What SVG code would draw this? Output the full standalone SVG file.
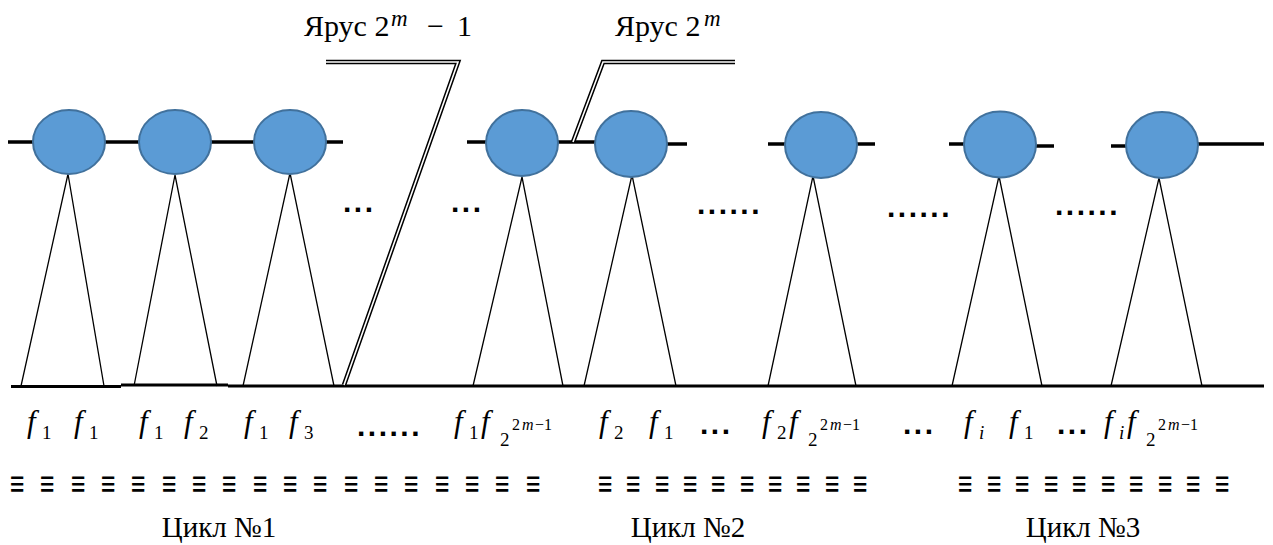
<svg xmlns="http://www.w3.org/2000/svg" width="1273" height="545" viewBox="0 0 1273 545">
<style>
.node{fill:#5b9bd5;stroke:#41719c;stroke-width:2}
.bus{stroke:#000;stroke-width:3.5;fill:none}
.tri{stroke:#000;stroke-width:1.3;fill:none}
.dblo{stroke:#000;stroke-width:4.6;fill:none;stroke-linejoin:miter}
.dbli{stroke:#fff;stroke-width:1.6;fill:none;stroke-linejoin:miter}
text{font-family:'Liberation Serif','Times New Roman',serif;fill:#000}
.t{font-size:30px}
.f{font-style:italic;font-size:31px}
.s{font-style:normal;font-size:19px}
.ss{font-style:normal;font-size:16px}
.it{font-style:italic}
.dots{font-family:'Liberation Sans',Arial,sans-serif;font-weight:bold;font-size:30px;letter-spacing:2.5px}
.eq{font-family:'Liberation Sans',Arial,sans-serif;font-weight:bold;font-size:25px;text-anchor:middle}
.cyc{font-size:29px;text-anchor:middle}
</style>
<rect width="1273" height="545" fill="#fff"/>
<g id="connectors">
<line class="bus" x1="8" y1="142" x2="343" y2="142"/>
<line class="bus" x1="467" y1="142" x2="600" y2="142"/>
<line class="bus" x1="660" y1="144" x2="687" y2="144"/>
<line class="bus" x1="768" y1="144" x2="875" y2="144"/>
<line class="bus" x1="949" y1="144" x2="970" y2="144"/>
<line class="bus" x1="1030" y1="146" x2="1054" y2="146"/>
<line class="bus" x1="1111" y1="146" x2="1130" y2="146"/>
<line class="bus" x1="1195" y1="144" x2="1264" y2="144"/>
<polyline class="tri" points="21,386 68,174 104,386"/>
<polyline class="tri" points="134,386 175,175 217,386"/>
<polyline class="tri" points="243,386 290,173 334,386"/>
<polyline class="tri" points="473,386 522,177 563,386"/>
<polyline class="tri" points="584,386 632,175 676,386"/>
<polyline class="tri" points="768,386 813,176 856,386"/>
<polyline class="tri" points="952,386 999,176 1042,386"/>
<polyline class="tri" points="1111,386 1159,178 1202,386"/>
<line x1="11" y1="386.5" x2="121" y2="386.5" stroke="#000" stroke-width="3"/>
<line x1="121" y1="385" x2="228" y2="385" stroke="#000" stroke-width="3"/>
<line x1="228" y1="386" x2="1264" y2="386" stroke="#000" stroke-width="3"/>
<path class="dblo" d="M326,62 L458,62 L344,385"/>
<path class="dbli" d="M326,62 L458,62 L344,385"/>
<path class="dblo" d="M735,62 L603,62 L573,142"/>
<path class="dbli" d="M735,62 L603,62 L573,142"/>
</g>
<g id="n1"><ellipse class="node" cx="69" cy="142" rx="36" ry="32"/></g>
<g id="n2"><ellipse class="node" cx="175" cy="142" rx="36" ry="32"/></g>
<g id="n3"><ellipse class="node" cx="290" cy="142" rx="36" ry="32"/></g>
<g id="n4"><ellipse class="node" cx="522" cy="143" rx="36" ry="33"/></g>
<g id="n5"><ellipse class="node" cx="631" cy="144" rx="36" ry="33"/></g>
<g id="n6"><ellipse class="node" cx="821" cy="145" rx="36" ry="33"/></g>
<g id="n7"><ellipse class="node" cx="1000" cy="144.5" rx="36" ry="33"/></g>
<g id="n8"><ellipse class="node" cx="1162" cy="145" rx="36" ry="33"/></g>
<g id="labels">
<text class="t" x="304" y="36">Ярус 2<tspan class="it" font-size="23" x="391" y="26">m</tspan><tspan x="427" y="36">−</tspan><tspan x="457" y="36">1</tspan></text>
<text class="t" x="615" y="36">Ярус 2<tspan class="it" font-size="23" x="704" y="26">m</tspan></text>
<text class="dots" x="343" y="212">...</text>
<text class="dots" x="451" y="212">...</text>
<text class="dots" x="697" y="214">......</text>
<text class="dots" x="887" y="217">......</text>
<text class="dots" x="1055" y="215">......</text>
<text class="f" x="27" y="432">f<tspan class="s" x="42" y="439">1</tspan></text>
<text class="f" x="74" y="432">f<tspan class="s" x="89" y="439">1</tspan></text>
<text class="f" x="139" y="432">f<tspan class="s" x="154" y="439">1</tspan></text>
<text class="f" x="184" y="432">f<tspan class="s" x="199" y="439">2</tspan></text>
<text class="f" x="244" y="432">f<tspan class="s" x="259" y="439">1</tspan></text>
<text class="f" x="289" y="432">f<tspan class="s" x="304" y="439">3</tspan></text>
<text class="dots" font-size="26" x="357" y="436">......</text>
<text class="f" x="454" y="432">f<tspan class="s" x="469" y="439">1</tspan><tspan x="481" y="432">f</tspan><tspan class="s" x="500" y="446">2</tspan><tspan class="ss" x="512" y="430">2</tspan><tspan class="ss it" x="522" y="430">m</tspan><tspan class="ss" x="535" y="430">−1</tspan></text>
<text class="f" x="599" y="432">f<tspan class="s" x="614" y="439">2</tspan></text>
<text class="f" x="649" y="432">f<tspan class="s" x="664" y="439">1</tspan></text>
<text class="dots" font-size="26" x="700" y="434">...</text>
<text class="f" x="762" y="432">f<tspan class="s" x="777" y="439">2</tspan><tspan x="789" y="432">f</tspan><tspan class="s" x="808" y="446">2</tspan><tspan class="ss" x="820" y="430">2</tspan><tspan class="ss it" x="830" y="430">m</tspan><tspan class="ss" x="843" y="430">−1</tspan></text>
<text class="dots" font-size="26" x="903" y="434">...</text>
<text class="f" x="964" y="432">f<tspan class="s it" x="979" y="439">i</tspan></text>
<text class="f" x="1009" y="432">f<tspan class="s" x="1024" y="439">1</tspan></text>
<text class="dots" font-size="26" x="1057" y="434">...</text>
<text class="f" x="1104" y="432">f<tspan class="s it" x="1119" y="439">i</tspan><tspan x="1127" y="432">f</tspan><tspan class="s" x="1146" y="446">2</tspan><tspan class="ss" x="1158" y="430">2</tspan><tspan class="ss it" x="1168" y="430">m</tspan><tspan class="ss" x="1181" y="430">−1</tspan></text>
<g transform="matrix(1 0 0 1.45 0 -217.4)">
<text class="eq" x="17" y="492">≡</text><text class="eq" x="47" y="492">≡</text><text class="eq" x="78" y="492">≡</text><text class="eq" x="108" y="492">≡</text><text class="eq" x="138" y="492">≡</text><text class="eq" x="169" y="492">≡</text><text class="eq" x="199" y="492">≡</text><text class="eq" x="229" y="492">≡</text><text class="eq" x="260" y="492">≡</text><text class="eq" x="290" y="492">≡</text><text class="eq" x="320" y="492">≡</text><text class="eq" x="351" y="492">≡</text><text class="eq" x="381" y="492">≡</text><text class="eq" x="411" y="492">≡</text><text class="eq" x="442" y="492">≡</text><text class="eq" x="472" y="492">≡</text><text class="eq" x="502" y="492">≡</text><text class="eq" x="533" y="492">≡</text>
<text class="eq" x="605" y="492">≡</text><text class="eq" x="633" y="492">≡</text><text class="eq" x="662" y="492">≡</text><text class="eq" x="690" y="492">≡</text><text class="eq" x="718" y="492">≡</text><text class="eq" x="747" y="492">≡</text><text class="eq" x="775" y="492">≡</text><text class="eq" x="803" y="492">≡</text><text class="eq" x="832" y="492">≡</text><text class="eq" x="860" y="492">≡</text>
<text class="eq" x="965" y="492">≡</text><text class="eq" x="994" y="492">≡</text><text class="eq" x="1022" y="492">≡</text><text class="eq" x="1051" y="492">≡</text><text class="eq" x="1079" y="492">≡</text><text class="eq" x="1108" y="492">≡</text><text class="eq" x="1136" y="492">≡</text><text class="eq" x="1165" y="492">≡</text><text class="eq" x="1193" y="492">≡</text><text class="eq" x="1222" y="492">≡</text>
</g>
<text class="cyc" x="219" y="537">Цикл №1</text>
<text class="cyc" x="688" y="537">Цикл №2</text>
<text class="cyc" x="1083" y="537">Цикл №3</text>
</g>
</svg>
